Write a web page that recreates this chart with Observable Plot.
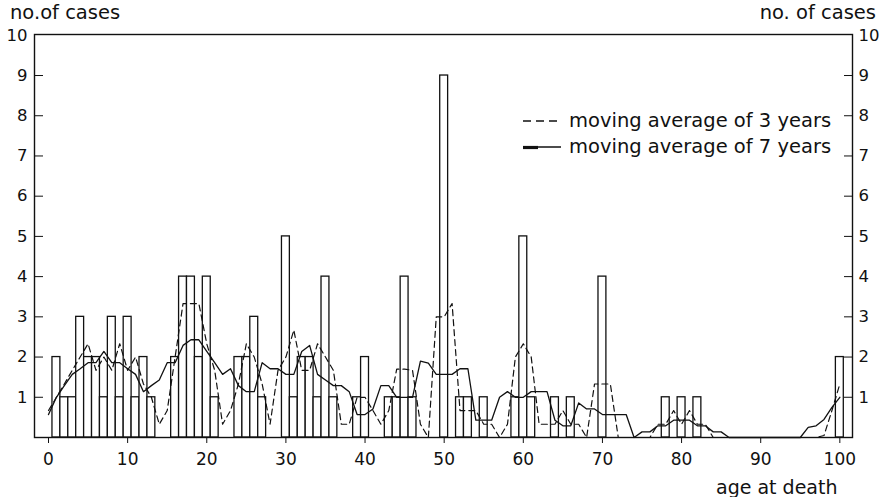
<!DOCTYPE html>
<html>
<head>
<meta charset="utf-8">
<script src="https://cdn.jsdelivr.net/npm/d3@7"></script>
<script src="https://cdn.jsdelivr.net/npm/@observablehq/plot@0.6"></script>
<style>
  html, body { margin: 0; padding: 0; background: #fff; }
  #wrap { position: relative; width: 880px; height: 497px; font-family: "DejaVu Sans", sans-serif; color: #111; }
  .t { position: absolute; white-space: nowrap; line-height: 1; }
  svg { overflow: visible; }
</style>
</head>
<body>
<div id="wrap">
  <div class="t" style="left:10px; top:3px; font-size:19.5px;">no.of cases</div>
  <div class="t" style="right:4px; top:3px; font-size:19.5px;">no. of cases</div>
  <div class="t" style="left:716px; top:478px; font-size:19px;">age at death</div>
  <div class="t" style="left:522px; top:111px; font-size:19.5px;">
    <svg width="40" height="20" style="position:absolute;left:0;top:0"><line x1="1" y1="10" x2="39" y2="10" stroke="#111" stroke-width="1.3" stroke-dasharray="8,5"/></svg>
    <span style="margin-left:47px">moving average of 3 years</span>
  </div>
  <div class="t" style="left:522px; top:137px; font-size:19.5px;">
    <svg width="40" height="20" style="position:absolute;left:0;top:0"><line x1="1" y1="10" x2="39" y2="10" stroke="#111" stroke-width="1.6"/><line x1="1" y1="10.5" x2="16" y2="10.5" stroke="#111" stroke-width="3.2"/></svg>
    <span style="margin-left:47px">moving average of 7 years</span>
  </div>
</div>
<script>
// age at death (years)
const ages = d3.range(0, 101);
// number of cases at each age
const counts = [
  0, 2, 1, 1, 3, 2, 2, 1, 3, 1,
  3, 1, 2, 1, 0, 0, 2, 4, 4, 2,
  4, 1, 0, 0, 2, 2, 3, 1, 0, 0,
  5, 1, 2, 2, 1, 4, 1, 0, 0, 1,
  2, 0, 0, 1, 1, 4, 1, 0, 0, 0,
  9, 0, 1, 1, 0, 1, 0, 0, 0, 1,
  5, 1, 0, 0, 1, 0, 1, 0, 0, 0,
  4, 0, 0, 0, 0, 0, 0, 0, 1, 0,
  1, 0, 1, 0, 0, 0, 0, 0, 0, 0,
  0, 0, 0, 0, 0, 0, 0, 0, 0, 0,
  2
];
// moving average of 3 years
const ma3 = [
  0.67, 1.00, 1.33, 1.67, 2.00, 2.33, 1.67, 2.00, 1.67, 2.33,
  1.67, 2.00, 1.33, 1.00, 0.33, 0.67, 2.00, 3.33, 3.33, 3.33,
  2.33, 1.67, 0.33, 0.67, 1.33, 2.33, 2.00, 1.33, 0.33, 1.67,
  2.00, 2.67, 1.67, 1.67, 2.33, 2.00, 1.67, 0.33, 0.33, 1.00,
  1.00, 0.67, 0.33, 0.67, 1.70, 1.70, 1.67, 0.33, 0.00, 3.00,
  3.00, 3.33, 0.67, 0.67, 0.67, 0.33, 0.33, 0.00, 0.33, 2.00,
  2.33, 2.00, 0.33, 0.33, 0.33, 0.67, 0.33, 0.33, 0.00, 1.33,
  1.33, 1.33, 0.00, 0.00, 0.00, 0.00, 0.00, 0.33, 0.33, 0.67,
  0.33, 0.67, 0.33, 0.33, 0.00, 0.00, 0.00, 0.00, 0.00, 0.00,
  0.00, 0.00, 0.00, 0.00, 0.00, 0.00, 0.00, 0.00, 0.05, 0.67,
  1.33
];
// moving average of 7 years
const ma7 = [
  0.57, 1.00, 1.29, 1.57, 1.71, 1.86, 1.86, 2.14, 1.86, 1.86,
  1.71, 1.57, 1.14, 1.29, 1.43, 1.86, 1.86, 2.29, 2.43, 2.43,
  2.14, 1.86, 1.57, 1.71, 1.29, 1.14, 1.14, 1.86, 1.71, 1.71,
  1.57, 1.57, 2.14, 2.29, 1.57, 1.43, 1.29, 1.29, 1.14, 0.57,
  0.57, 0.71, 1.29, 1.29, 1.00, 1.00, 1.00, 1.90, 1.85, 1.57,
  1.57, 1.57, 1.71, 1.71, 0.43, 0.43, 0.43, 1.00, 1.14, 1.00,
  1.00, 1.14, 1.14, 1.14, 0.43, 0.29, 0.29, 0.86, 0.71, 0.71,
  0.57, 0.57, 0.57, 0.57, 0.00, 0.14, 0.14, 0.29, 0.29, 0.43,
  0.43, 0.43, 0.29, 0.29, 0.14, 0.14, 0.00, 0.00, 0.00, 0.00,
  0.00, 0.00, 0.00, 0.00, 0.00, 0.00, 0.25, 0.29, 0.45, 0.75,
  1.00
];
const xTicks = [0, 10, 20, 30, 40, 50, 60, 70, 80, 90, 100];
const yTicks = [1, 2, 3, 4, 5, 6, 7, 8, 9, 10];
const yInnerTicks = [1, 2, 3, 4, 5, 6, 7, 8, 9];

const data = ages.map((a, i) => ({age: a, count: counts[i], ma3: ma3[i], ma7: ma7[i]}));
const ink = "#111";
const blank = () => "";

const chart = Plot.plot({
  width: 880,
  height: 497,
  marginLeft: 34,
  marginRight: 28,
  marginTop: 34,
  marginBottom: 60,
  style: {fontFamily: "DejaVu Sans, sans-serif", color: ink, background: "transparent"},
  x: {domain: [-1.77, 101.6], label: null},
  y: {domain: [0, 10.02], label: null},
  marks: [
    Plot.rectY(data.filter(d => d.count > 0), {
      x1: d => d.age - 0.5, x2: d => d.age + 0.5, y: "count",
      fill: "white", stroke: ink, strokeWidth: 1.3
    }),
    Plot.lineY(data, {x: "age", y: "ma7", stroke: ink, strokeWidth: 1.3}),
    Plot.lineY(data, {x: "age", y: "ma3", stroke: ink, strokeWidth: 1.2, strokeDasharray: "6,4"}),
    Plot.frame({stroke: ink, strokeWidth: 1.4}),
    Plot.axisX({ticks: xTicks, tickSize: 6, tickPadding: 9, fontSize: 17, label: null}),
    Plot.axisY({anchor: "left", ticks: yInnerTicks, tickSize: 9, dx: 9, tickFormat: blank, label: null}),
    Plot.axisY({anchor: "right", ticks: yInnerTicks, tickSize: 9, dx: -9, tickFormat: blank, label: null}),
    Plot.axisY({anchor: "left", ticks: yTicks, tickSize: 0, tickPadding: 7, fontSize: 16.5, label: null}),
    Plot.axisY({anchor: "right", ticks: yTicks, tickSize: 0, tickPadding: 6, fontSize: 16.5, label: null})
  ]
});
document.getElementById("wrap").prepend(chart);
chart.style.position = "absolute";
chart.style.left = "0px";
chart.style.top = "0px";
</script>
</body>
</html>
